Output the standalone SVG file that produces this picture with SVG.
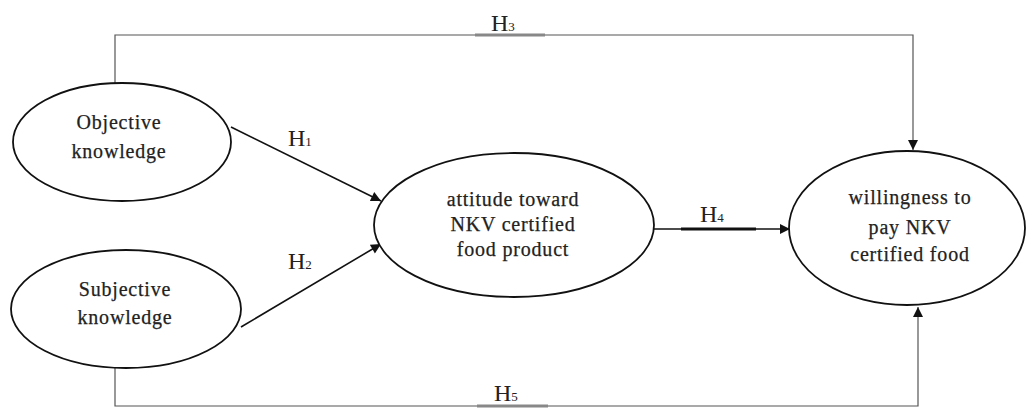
<svg xmlns="http://www.w3.org/2000/svg" width="1027" height="410" viewBox="0 0 1027 410">
<style>
.node ellipse{fill:#fff;stroke:#111;stroke-width:1.8}
.lbl{font-family:"Liberation Serif","Times New Roman",serif;font-size:20px;fill:#222;text-anchor:middle;letter-spacing:0.8px;stroke:#222;stroke-width:0.25}
.h{font-family:"Liberation Serif","Times New Roman",serif;font-size:24px;fill:#222}
.h tspan{font-size:13px}
.conn{fill:none;stroke:#111;stroke-width:1.6}
.thin{fill:none;stroke:#555;stroke-width:1.2}
</style>
<defs>
<marker id="ah" viewBox="0 0 10 10" refX="10" refY="5" markerWidth="11" markerHeight="10" markerUnits="userSpaceOnUse" orient="auto">
<path d="M0,0 L10,5 L0,10 z" fill="#111"/>
</marker>
</defs>
<rect width="1027" height="410" fill="#fff"/>
<g id="connectors">
<polyline class="thin" points="115,83 115,35 913,35 913,150" marker-end="url(#ah)"/>
<line x1="475" y1="35" x2="545" y2="35" stroke="#888" stroke-width="3"/>
<polyline class="thin" points="115,368 115,406 918,406 918,307" marker-end="url(#ah)"/>
<line x1="477" y1="406" x2="548" y2="406" stroke="#888" stroke-width="3"/>
<line class="conn" x1="231" y1="127" x2="381" y2="201" marker-end="url(#ah)"/>
<line class="conn" x1="241" y1="327" x2="381" y2="244" marker-end="url(#ah)"/>
<line class="conn" x1="654" y1="229" x2="790" y2="229" marker-end="url(#ah)"/>
<line x1="681" y1="229" x2="756" y2="229" stroke="#111" stroke-width="3"/>
<text class="h" x="491" y="31">H<tspan>3</tspan></text>
<text class="h" x="288" y="146">H<tspan>1</tspan></text>
<text class="h" x="288" y="269">H<tspan>2</tspan></text>
<text class="h" x="700" y="222">H<tspan>4</tspan></text>
<text class="h" x="494" y="401">H<tspan>5</tspan></text>
</g>
<g id="objective" class="node">
<ellipse cx="122" cy="142" rx="109" ry="59"/>
<text class="lbl" x="119" y="129">Objective</text>
<text class="lbl" x="119" y="158">knowledge</text>
</g>
<g id="subjective" class="node">
<ellipse cx="126" cy="309" rx="115" ry="59"/>
<text class="lbl" x="125" y="296">Subjective</text>
<text class="lbl" x="125" y="324">knowledge</text>
</g>
<g id="attitude" class="node">
<ellipse cx="514" cy="225" rx="140" ry="72"/>
<text class="lbl" x="513" y="206">attitude toward</text>
<text class="lbl" x="513" y="231">NKV certified</text>
<text class="lbl" x="513" y="256">food product</text>
</g>
<g id="willingness" class="node">
<ellipse cx="907" cy="228" rx="118" ry="77"/>
<text class="lbl" x="910" y="204">willingness to</text>
<text class="lbl" x="910" y="234">pay NKV</text>
<text class="lbl" x="910" y="261">certified food</text>
</g>
</svg>
